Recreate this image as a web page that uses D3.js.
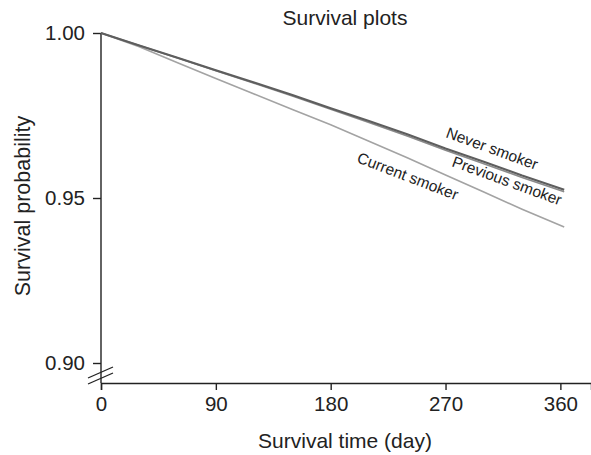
<!DOCTYPE html>
<html><head><meta charset="utf-8">
<script src="https://cdn.jsdelivr.net/npm/d3@7"></script>
<style>
body{margin:0;background:#fff;}
text{font-family:"Liberation Sans",Arial,Helvetica,sans-serif;fill:#222;}
</style></head>
<body>
<svg id="c" width="591" height="455"></svg>
<script>
const days = [0, 30, 60, 90, 120, 150, 180, 210, 240, 270, 300, 330, 363];
const neverSmoker    = [1.0, 0.9962, 0.9925, 0.9887, 0.9850, 0.9812, 0.9772, 0.9733, 0.9693, 0.9650, 0.9610, 0.9568, 0.9525];
const previousSmoker = [1.0, 0.9962, 0.9924, 0.9886, 0.9848, 0.9809, 0.9769, 0.9729, 0.9688, 0.9645, 0.9604, 0.9562, 0.9519];
const currentSmoker  = [1.0, 0.9958, 0.9910, 0.9862, 0.9815, 0.9768, 0.9722, 0.9672, 0.9622, 0.9570, 0.9518, 0.9466, 0.9412];
const xTicks = [0, 90, 180, 270, 360];
const yTicks = [0.90, 0.95, 1.00];
const seriesNames = ["Never smoker", "Previous smoker", "Current smoker"];

const svg = d3.select("#c");
const x = d3.scaleLinear().domain([0, 384]).range([101, 591]);
const y = d3.scaleLinear().domain([0.90, 1.00]).range([363, 33]);
const axisY = 383;

// x axis
const gx = svg.append("g").attr("transform", `translate(0,${axisY})`)
  .call(d3.axisBottom(x).tickValues(xTicks).tickFormat(d3.format("d")).tickSize(7).tickSizeOuter(7).tickPadding(6));
gx.selectAll("text").style("font-size", "20.5px").attr("fill", "#222");
gx.selectAll("path,line").attr("stroke", "#222").attr("stroke-width", 1.4);

// y axis
const gy = svg.append("g").attr("transform", `translate(101,0)`)
  .call(d3.axisLeft(y).tickValues(yTicks).tickFormat(d3.format(".2f")).tickSize(8).tickSizeOuter(0).tickPadding(8));
gy.select(".domain").remove();
gy.selectAll("text").style("font-size", "20.5px").attr("fill", "#222");
gy.selectAll("line").attr("stroke", "#222").attr("stroke-width", 1.4);
svg.append("line").attr("x1", 101).attr("x2", 101).attr("y1", y(1.0)).attr("y2", axisY)
  .attr("stroke", "#222").attr("stroke-width", 1.4);
// axis break marks
svg.append("line").attr("x1", 88).attr("y1", 378).attr("x2", 113).attr("y2", 367).attr("stroke", "#222").attr("stroke-width", 1.3);
svg.append("line").attr("x1", 88).attr("y1", 384).attr("x2", 113).attr("y2", 373).attr("stroke", "#222").attr("stroke-width", 1.3);

// lines
const line = d3.line().x((d, i) => x(days[i])).y(d => y(d));
const series = [
  {vals: currentSmoker, color: "#a3a3a3", w: 1.6},
  {vals: previousSmoker, color: "#8a8a8a", w: 1.6},
  {vals: neverSmoker, color: "#5e5e5e", w: 2.1}
];
series.forEach(s => {
  svg.append("path").datum(s.vals).attr("d", line)
    .attr("fill", "none").attr("stroke", s.color).attr("stroke-width", s.w);
});

// labels
const labels = [
  {t: seriesNames[0], x: 445, y: 137, r: 20},
  {t: seriesNames[1], x: 451, y: 166, r: 20},
  {t: seriesNames[2], x: 356, y: 162, r: 21}
];
labels.forEach(l => {
  svg.append("text").attr("transform", `translate(${l.x},${l.y}) rotate(${l.r})`)
    .style("font-size", "15.5px").text(l.t);
});

// titles
svg.append("text").attr("x", 345).attr("y", 25).attr("text-anchor", "middle").style("font-size", "21px").text("Survival plots");
svg.append("text").attr("x", 345).attr("y", 448).attr("text-anchor", "middle").style("font-size", "21px").text("Survival time (day)");
svg.append("text").attr("transform", "translate(30,206) rotate(-90)").attr("text-anchor", "middle").style("font-size", "21.5px").text("Survival probability");
</script>
</body></html>
